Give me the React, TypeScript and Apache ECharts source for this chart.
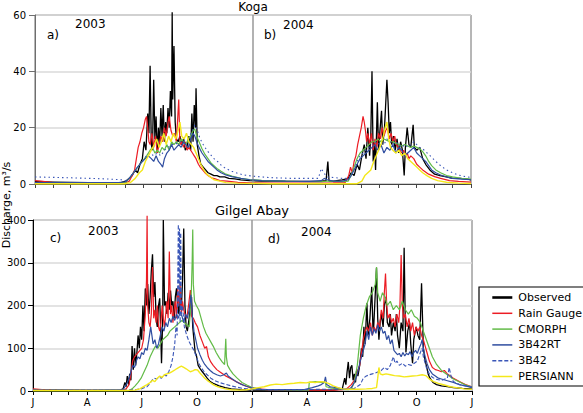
import React, { useEffect, useRef } from 'react';
import * as echarts from 'echarts';

// x values are days counted from 1 January 2003
const seriesNames = ['Observed', 'Rain Gauge', 'CMORPH', '3B42RT', '3B42', 'PERSIANN'];
const monthStarts = [0, 31, 59, 90, 120, 151, 181, 212, 243, 273, 304, 334, 365, 396, 425, 456, 486, 517, 547, 578, 609, 639, 670, 700, 731];
const quarterTicks = [0, 90, 181, 273, 365, 456, 547, 639, 731];
const quarterLabels = ['J', 'A', 'J', 'O', 'J', 'A', 'J', 'O', 'J'];
const yearBreak = 365;
const dayMax = 731;

const kogaObserved = [[0,0.8],[30,0.7],[60,0.6],[90,0.5],[120,0.5],[145,0.6],[152,1],[158,2],[163,3],[168,5],[172,4],[176,7],[180,9],[183,15],[186,12],[189,25],[191,18],[193,42],[195,14],[197,12],[199,37],[201,16],[203,24],[205,11],[207,20],[209,14],[211,27],[213,17],[215,28],[217,15],[219,22],[221,18],[223,27],[225,20],[227,33],[229,24],[230,61],[231,30],[233,49],[235,22],[237,16],[240,15],[243,17],[246,14],[249,16],[252,12],[255,13],[258,17],[261,12],[263,25],[265,15],[267,28],[269,20],[270,34],[272,14],[275,10],[278,7],[282,6],[286,5],[290,4],[295,3.5],[300,3],[305,3],[310,2.5],[318,2.5],[325,2],[335,1.8],[345,1.5],[360,1.2],[380,1],[400,1],[430,0.9],[460,0.9],[480,1],[488,1.2],[491,8],[493,1],[500,1],[515,1.5],[525,2],[530,4],[535,3],[540,7],[544,5],[548,10],[552,14],[555,9],[558,20],[561,10],[563,17],[565,40],[567,8],[569,15],[571,5],[574,29],[576,12],[578,18],[581,26],[583,14],[586,20],[590,37],[592,29],[594,18],[596,22],[598,14],[601,17],[604,12],[607,16],[610,11],[613,15],[616,12],[619,3],[621,13],[624,20],[627,14],[630,13],[634,21],[636,13],[640,12],[645,13],[650,9],[655,7],[662,5],[670,3.5],[679,3],[690,2.5],[700,2],[713,2],[725,1.7],[731,1.5]];
const kogaRainGauge = [[0,1.2],[10,1],[20,0.8],[40,0.3],[100,0.2],[150,0.3],[158,1],[163,3],[167,5],[170,9],[173,13],[176,15],[179,18],[182,20],[185,23],[187,24],[189,20],[191,15],[193,14],[196,18],[199,13],[202,17],[205,11],[208,14],[211,17],[214,15],[217,20],[220,17],[223,22],[225,24],[228,19],[231,17],[234,18],[237,15],[241,30],[243,14],[246,15],[249,13],[252,15],[255,12],[258,13],[261,12],[264,11],[267,10],[270,9],[274,7],[277,6],[281,5],[285,4],[290,3],[296,2.2],[302,1.8],[310,1.2],[322,1],[340,0.6],[360,0.4],[400,0.3],[450,0.3],[500,0.4],[520,0.5],[526,3],[529,6],[532,4],[535,8],[538,10],[541,14],[544,17],[547,20],[550,24],[552,22],[554,19],[556,15],[558,18],[561,14],[564,18],[567,12],[570,16],[573,13],[576,18],[579,16],[582,20],[585,17],[588,19],[591,20],[594,16],[597,18],[600,15],[603,17],[606,14],[609,13],[612,12],[615,11],[618,12],[621,10],[624,11],[627,9],[630,10],[635,9],[640,7],[645,6],[650,5],[660,3.5],[670,2.6],[680,2],[695,1.2],[710,0.9],[731,0.7]];
const kogaCmorph = [[0,0.3],[60,0.3],[140,0.3],[152,0.5],[158,2],[165,4],[172,6],[180,8],[187,10],[193,12],[197,13],[201,11],[205,12],[209,11],[213,13],[217,12],[221,14],[225,12],[229,15],[233,14],[237,15],[241,14],[245,16],[249,15],[253,14],[257,16],[261,17],[265,19],[268,19.5],[271,17],[275,15],[280,12.5],[285,10.5],[290,9],[295,7.5],[300,6.5],[305,5.5],[312,4.5],[320,3.5],[330,2.8],[345,2],[360,1.6],[380,1.3],[420,1],[460,0.8],[480,0.8],[490,1],[500,1],[515,0.8],[525,1],[530,3],[535,6],[540,9],[545,11],[550,12],[555,13],[560,14],[565,15],[570,15],[575,16],[580,15],[585,16],[590,15.5],[595,15],[600,15],[605,14.5],[610,14],[615,13.5],[620,14],[625,13.5],[630,13],[635,13.5],[640,13],[645,12.5],[650,11.5],[655,10],[660,8],[665,6.5],[672,5],[680,4],[690,3],[700,2.5],[715,2],[731,1.7]];
const kogaRt = [[0,0.5],[60,0.5],[140,0.5],[152,0.8],[158,2],[165,4],[172,6],[180,8],[185,9],[190,10],[195,9],[199,8],[203,10],[207,8],[211,7],[214,6],[217,9],[221,11],[225,12],[229,14],[233,12],[237,13],[241,14],[245,13],[249,15],[253,14],[257,13],[261,16],[265,18],[268,17],[271,15],[275,13],[280,11],[285,9.5],[290,8],[295,7],[300,6],[305,5],[312,4],[320,3.2],[330,2.6],[345,2],[360,1.5],[380,1.2],[420,1],[460,0.9],[480,1.2],[485,2],[490,1.5],[500,1],[515,1],[525,1.5],[530,3],[535,5],[540,7],[545,9],[550,10],[555,11],[560,12],[565,13],[570,14],[575,12],[580,14],[585,11],[590,13],[595,12],[600,14],[605,11],[610,13],[615,12],[620,10],[625,11],[630,12],[635,13],[640,11],[645,10],[650,9],[655,8],[660,6.5],[665,5],[672,4],[680,3.2],[690,2.5],[700,2],[715,1.7],[731,1.5]];
const kogaB42 = [[0,2.5],[20,2.4],[40,2.3],[60,2.2],[90,2.0],[120,1.8],[145,1.5],[152,1.2],[158,2],[165,4],[172,6],[180,8],[187,10],[193,11],[199,10],[205,11],[211,10],[217,12],[223,13],[229,14],[235,14],[241,15],[247,15],[253,16],[259,17],[264,19],[268,21],[272,19],[277,16],[282,14],[288,12],[294,10.5],[300,9],[306,8],[313,6.5],[320,5.5],[330,4.5],[340,3.8],[350,3.2],[365,2.8],[380,2.5],[400,2.2],[430,2],[460,2],[475,2],[480,5.5],[484,4],[490,2.5],[500,2.3],[515,2],[525,2],[530,3],[535,5],[540,8],[545,10],[550,11],[555,12],[560,13],[565,14],[570,15],[575,14],[580,15],[585,14],[590,16],[595,15],[600,14],[605,15],[610,14],[615,13],[620,14],[625,13],[630,14],[635,15],[640,14],[645,13],[650,12.5],[655,11.5],[660,10.5],[665,9.5],[672,8],[680,6.5],[690,5],[700,4],[710,3.2],[720,2.7],[731,2.3]];
const kogaPersiann = [[0,0.1],[150,0.1],[160,0.5],[168,2],[175,4],[180,5],[185,8],[190,10],[195,12],[200,14],[204,16],[208,13],[212,15],[216,18],[220,14],[224,17],[228,15],[232,18],[236,16],[240,19],[243,22],[246,17],[250,16],[254,18],[258,15],[262,14],[266,13],[270,11],[274,9],[278,7],[283,5],[288,3.5],[294,2.5],[300,1.5],[310,1],[320,0.5],[340,0.3],[400,0.1],[540,0.1],[548,1],[553,3],[558,4],[563,5],[568,8],[572,10],[576,12],[580,14],[584,17],[587,20],[590,22],[593,16],[596,13],[600,12],[605,11],[610,12],[615,10],[620,11],[625,9],[630,8],[635,7],[640,6],[645,5],[650,4],[657,3],[665,2],[675,1.2],[690,0.6],[710,0.3],[731,0.2]];

const gilgelObserved = [[0,3],[30,2.5],[60,2],[90,1.5],[120,1.5],[145,2],[150,5],[153,20],[155,10],[157,35],[159,15],[161,40],[163,25],[165,105],[167,50],[169,100],[171,60],[173,90],[175,130],[177,100],[179,150],[181,120],[183,200],[185,140],[187,240],[189,200],[191,250],[193,180],[195,220],[197,280],[199,320],[201,220],[203,255],[205,170],[207,150],[209,200],[211,217],[213,120],[214,65],[216,170],[217,400],[219,200],[221,210],[223,180],[225,230],[227,190],[229,235],[231,200],[233,210],[235,170],[237,220],[239,240],[241,200],[243,180],[245,230],[247,190],[249,260],[251,380],[253,200],[255,150],[257,140],[259,160],[261,180],[264,220],[266,150],[268,120],[270,90],[272,84],[275,60],[278,53],[282,45],[286,38],[290,30],[295,22],[300,18],[310,12],[320,8],[330,5],[345,3],[365,2],[400,2],[450,2],[500,2],[515,5],[519,30],[521,15],[523,45],[525,68],[527,30],[529,55],[531,60],[533,25],[535,40],[537,20],[539,50],[541,35],[544,60],[547,100],[549,80],[551,150],[553,110],[556,205],[558,130],[561,170],[564,244],[566,150],[567,140],[569,200],[572,288],[574,170],[576,120],[578,160],[580,180],[583,150],[585,200],[588,220],[590,160],[593,150],[595,180],[597,130],[600,160],[603,140],[605,180],[607,130],[610,100],[613,160],[616,140],[618,335],[620,150],[621,90],[624,140],[627,160],[629,110],[632,65],[634,120],[638,150],[641,130],[644,120],[647,252],[649,150],[650,100],[653,70],[655,60],[658,40],[661,30],[666,20],[672,15],[680,12],[690,10],[700,8],[715,6],[731,5]];
const gilgelRainGauge = [[0,5],[15,3],[30,2],[60,1.5],[120,1.5],[150,2],[155,5],[160,15],[163,40],[166,70],[169,80],[172,85],[175,90],[178,95],[181,100],[184,120],[187,180],[189,260],[190,410],[191,200],[193,160],[195,150],[197,180],[199,290],[201,170],[203,190],[205,160],[207,200],[209,150],[211,140],[213,160],[215,200],[217,170],[219,150],[221,180],[223,210],[225,170],[227,326],[229,180],[231,200],[233,160],[235,190],[237,210],[239,170],[241,240],[243,200],[245,250],[247,180],[249,210],[251,190],[253,180],[256,170],[259,200],[262,236],[264,175],[267,170],[270,160],[274,150],[278,130],[282,115],[286,100],[289,104],[292,80],[296,68],[300,60],[306,50],[312,44],[320,36],[328,30],[338,22],[350,14],[362,8],[375,5],[390,3],[450,2],[500,2],[515,3],[522,5],[530,15],[535,25],[540,45],[544,60],[547,90],[550,120],[553,140],[556,150],[559,140],[562,160],[565,130],[568,150],[571,140],[574,160],[577,150],[580,190],[583,170],[585,230],[587,275],[589,200],[591,170],[594,180],[597,160],[600,170],[603,150],[606,180],[609,160],[611,200],[613,318],[615,200],[617,170],[620,180],[623,150],[626,170],[629,140],[632,160],[635,130],[638,150],[641,140],[644,150],[647,130],[650,120],[653,105],[656,90],[660,70],[665,55],[670,50],[675,48],[680,45],[685,48],[690,40],[695,35],[700,30],[710,22],[720,15],[731,10]];
const gilgelCmorph = [[0,1],[100,1],[160,1],[165,5],[170,12],[175,20],[180,30],[185,45],[190,60],[195,80],[200,95],[204,105],[208,100],[212,110],[216,120],[220,125],[224,130],[228,140],[232,145],[236,150],[240,155],[244,160],[248,165],[252,160],[256,155],[260,150],[263,200],[265,300],[266,378],[267,250],[269,210],[272,200],[276,190],[280,170],[284,150],[288,135],[292,125],[296,115],[300,105],[305,90],[310,78],[315,68],[319,62],[321,122],[322,80],[324,60],[328,50],[333,40],[340,30],[348,20],[356,14],[365,8],[380,4],[400,3],[440,2],[459,2],[460,20],[470,22],[480,20],[487,20],[488,10],[500,6],[515,4],[525,3],[530,5],[535,20],[540,60],[545,130],[550,170],[555,200],[560,220],[565,230],[570,250],[572,290],[574,230],[578,210],[582,230],[586,220],[590,200],[595,210],[600,190],[605,200],[610,190],[615,210],[620,190],[625,180],[630,190],[635,175],[640,170],[645,160],[650,140],[655,120],[660,100],[665,80],[672,62],[680,48],[690,38],[700,28],[712,20],[722,13],[731,9]];
const gilgelRt = [[0,2],[100,2],[150,3],[153,10],[157,20],[160,30],[163,45],[166,60],[169,55],[172,70],[175,80],[178,75],[181,90],[184,85],[187,100],[190,95],[193,120],[196,150],[198,130],[200,110],[203,120],[206,100],[209,110],[212,130],[215,150],[218,140],[221,160],[224,150],[227,170],[230,160],[233,175],[236,165],[239,180],[242,170],[245,185],[248,175],[251,160],[254,180],[257,170],[260,190],[263,225],[265,180],[268,140],[271,120],[274,100],[278,85],[282,72],[286,62],[290,55],[295,48],[300,42],[306,38],[312,35],[318,38],[322,42],[325,35],[330,30],[338,22],[346,16],[355,11],[365,7],[380,4],[400,3],[450,3],[465,8],[475,12],[480,15],[485,20],[487,33],[489,15],[495,10],[505,8],[515,5],[525,4],[530,8],[535,20],[540,40],[545,70],[550,95],[553,110],[556,140],[559,120],[562,150],[565,130],[568,145],[571,135],[574,155],[577,140],[580,150],[583,135],[586,140],[589,120],[592,130],[595,110],[598,120],[601,95],[604,90],[607,85],[610,88],[613,80],[616,90],[619,82],[622,88],[625,85],[628,92],[631,80],[634,90],[637,95],[640,88],[643,100],[646,110],[648,120],[650,100],[653,80],[656,65],[660,50],[665,40],[670,35],[675,30],[680,28],[690,24],[700,20],[710,15],[720,12],[731,8]];
const gilgelB42 = [[0,2],[100,2],[160,2],[170,3],[180,5],[190,10],[195,18],[198,25],[202,30],[206,28],[210,32],[214,30],[218,38],[222,35],[226,45],[230,60],[233,80],[236,110],[238,150],[240,130],[242,390],[243,200],[244,380],[245,160],[246,370],[247,180],[249,200],[252,150],[256,130],[260,115],[264,105],[268,95],[272,80],[276,65],[280,55],[285,45],[290,38],[296,30],[302,25],[310,20],[320,16],[330,12],[340,9],[350,6],[365,4],[400,3],[450,3],[480,4],[500,4],[520,4],[535,6],[545,15],[550,30],[555,35],[560,38],[565,40],[570,42],[575,45],[580,48],[585,55],[590,50],[595,60],[600,80],[603,65],[606,70],[610,60],[615,65],[620,58],[625,62],[630,60],[635,65],[640,70],[645,90],[648,100],[650,80],[655,55],[660,40],[665,32],[670,28],[680,25],[690,30],[693,55],[696,35],[700,22],[710,15],[720,12],[731,9]];
const gilgelPersiann = [[0,1],[150,1],[170,2],[178,5],[184,10],[190,15],[195,20],[199,25],[203,22],[207,30],[211,35],[215,32],[219,38],[223,40],[227,42],[231,45],[235,48],[239,52],[243,55],[247,58],[251,55],[255,52],[259,48],[262,45],[266,47],[270,50],[274,49],[278,42],[282,36],[286,30],[290,25],[295,20],[300,15],[306,11],[312,8],[320,5],[330,3],[345,2],[355,3],[365,5],[375,8],[385,10],[395,14],[405,16],[415,15],[425,17],[435,18],[445,20],[455,19],[462,21],[470,20],[478,22],[485,21],[492,18],[500,12],[508,8],[515,5],[525,4],[540,4],[555,5],[565,6],[572,8],[574,30],[576,55],[578,40],[582,38],[588,40],[595,38],[602,36],[610,35],[618,33],[625,34],[632,35],[640,36],[648,38],[654,36],[660,28],[667,22],[675,18],[685,14],[695,10],[705,8],[718,5],[731,4]];

const kogaSets = [kogaObserved, kogaRainGauge, kogaCmorph, kogaRt, kogaB42, kogaPersiann];
const gilgelSets = [gilgelObserved, gilgelRainGauge, gilgelCmorph, gilgelRt, gilgelB42, gilgelPersiann];

const lineStyles = [
  { color: '#000000', width: 1.3, type: 'solid' },
  { color: '#ec1c24', width: 1.2, type: 'solid' },
  { color: '#62bb47', width: 1.2, type: 'solid' },
  { color: '#2f4da0', width: 1.2, type: 'solid' },
  { color: '#3a56b8', width: 1.1, type: [4, 2] },
  { color: '#f4e81b', width: 1.4, type: 'solid' },
];

const FONT = 'DejaVu Sans';

function buildSeries(sets: number[][][], gridIndex: number, dotted: boolean) {
  return sets.map((d, i) => {
    const ls: any = { ...lineStyles[i] };
    if (i === 4 && dotted) ls.type = [1.5, 3];
    const s: any = {
      name: seriesNames[i],
      type: 'line',
      xAxisIndex: gridIndex,
      yAxisIndex: gridIndex,
      data: d,
      symbol: 'none',
      showSymbol: false,
      clip: false,
      lineStyle: ls,
      itemStyle: { color: lineStyles[i].color },
      z: 2 + i,
    };
    if (i === 0) {
      s.markLine = {
        silent: true,
        symbol: 'none',
        label: { show: false },
        lineStyle: { color: '#999999', width: 1.5, type: 'solid' },
        data: [{ xAxis: yearBreak }],
      };
    }
    return s;
  });
}

export default function App() {
  const ref = useRef<HTMLDivElement>(null);
  useEffect(() => {
    document.body.style.margin = '0';
    if (!ref.current) return;
    const chart = echarts.init(ref.current, undefined, { renderer: 'svg' });
    const xCommon = (showLabels: boolean, lineColor: string) => ({
      type: 'value',
      min: 0,
      max: dayMax,
      splitLine: { show: false },
      axisLine: { show: true, lineStyle: { color: lineColor, width: 1 } },
      axisTick: {
        show: true,
        inside: false,
        length: 4,
        customValues: monthStarts,
        lineStyle: { color: lineColor },
      },
      axisLabel: showLabels
        ? {
            show: true,
            customValues: quarterTicks,
            formatter: (v: number) => quarterLabels[quarterTicks.indexOf(Math.round(v))] ?? '',
            color: '#000',
            fontSize: 10,
            fontFamily: FONT,
            margin: 6,
          }
        : { show: false },
    });
    const option: any = {
      animation: false,
      textStyle: { fontFamily: FONT },
      grid: [
        { left: 35, top: 15, width: 436, height: 169, show: true, borderColor: '#6e6e6e', borderWidth: 1 },
        { left: 33, top: 220, width: 439, height: 171, show: true, borderColor: '#6e6e6e', borderWidth: 1 },
      ],
      xAxis: [
        { ...xCommon(false, '#444'), gridIndex: 0 },
        { ...xCommon(true, '#000'), gridIndex: 1 },
      ],
      yAxis: [
        {
          type: 'value', gridIndex: 0, min: 0, max: 60, interval: 20,
          axisLine: { show: true, lineStyle: { color: '#6e6e6e' } },
          axisTick: { show: true, length: 6, lineStyle: { color: '#6e6e6e' } },
          axisLabel: { color: '#000', fontSize: 10, fontFamily: FONT, margin: 9 },
          splitLine: { show: true, lineStyle: { color: '#dadada', width: 1.5 } },
        },
        {
          type: 'value', gridIndex: 1, min: 0, max: 400, interval: 100,
          axisLine: { show: true, lineStyle: { color: '#000' } },
          axisTick: { show: true, length: 5, lineStyle: { color: '#000' } },
          axisLabel: { color: '#000', fontSize: 10, fontFamily: FONT, margin: 7 },
          splitLine: { show: true, lineStyle: { color: '#dadada', width: 1.5 } },
        },
      ],
      legend: {
        orient: 'vertical',
        left: 479,
        top: 287,
        width: 110,
        backgroundColor: '#fff',
        borderColor: '#000',
        borderWidth: 1.2,
        padding: [5, 8, 4, 12],
        itemWidth: 20,
        itemHeight: 12,
        itemGap: 4.8,
        itemStyle: { opacity: 0 },
        textStyle: { color: '#000', fontSize: 11, fontFamily: FONT, padding: [0, 0, 0, 1] },
        data: seriesNames.map((n, i) => ({
          name: n,
          itemStyle: { opacity: 0 },
          lineStyle: { width: i === 0 ? 2.6 : 1.5, color: lineStyles[i].color, type: lineStyles[i].type, opacity: 1 },
        })),
        selectedMode: false,
      },
      graphic: [
        { type: 'text', x: 253, y: 7, style: { text: 'Koga', fontSize: 12, fontFamily: FONT, fill: '#000', align: 'center', verticalAlign: 'middle' } },
        { type: 'text', x: 252, y: 210, style: { text: 'Gilgel Abay', fontSize: 13, fontFamily: FONT, fill: '#000', align: 'center', verticalAlign: 'middle' } },
        { type: 'text', x: 47, y: 35, style: { text: 'a)', fontSize: 12, fontFamily: FONT, fill: '#000', align: 'left', verticalAlign: 'middle' } },
        { type: 'text', x: 75, y: 24, style: { text: '2003', fontSize: 12, fontFamily: FONT, fill: '#000', align: 'left', verticalAlign: 'middle' } },
        { type: 'text', x: 264, y: 35, style: { text: 'b)', fontSize: 12, fontFamily: FONT, fill: '#000', align: 'left', verticalAlign: 'middle' } },
        { type: 'text', x: 283, y: 25, style: { text: '2004', fontSize: 12, fontFamily: FONT, fill: '#000', align: 'left', verticalAlign: 'middle' } },
        { type: 'text', x: 50, y: 238, style: { text: 'c)', fontSize: 12, fontFamily: FONT, fill: '#000', align: 'left', verticalAlign: 'middle' } },
        { type: 'text', x: 88, y: 231, style: { text: '2003', fontSize: 12, fontFamily: FONT, fill: '#000', align: 'left', verticalAlign: 'middle' } },
        { type: 'text', x: 268, y: 239, style: { text: 'd)', fontSize: 12, fontFamily: FONT, fill: '#000', align: 'left', verticalAlign: 'middle' } },
        { type: 'text', x: 301, y: 232, style: { text: '2004', fontSize: 12, fontFamily: FONT, fill: '#000', align: 'left', verticalAlign: 'middle' } },
        { type: 'text', x: 6, y: 205, rotation: Math.PI / 2, style: { text: 'Discharge, m³/s', fontSize: 11, fontFamily: FONT, fill: '#000', align: 'center', verticalAlign: 'middle' } },
      ],
      series: [...buildSeries(kogaSets, 0, true), ...buildSeries(gilgelSets, 1, false)],
    };
    chart.setOption(option);
    return () => chart.dispose();
  }, []);
  return <div ref={ref} style={{ width: 583, height: 413 }} />;
}
